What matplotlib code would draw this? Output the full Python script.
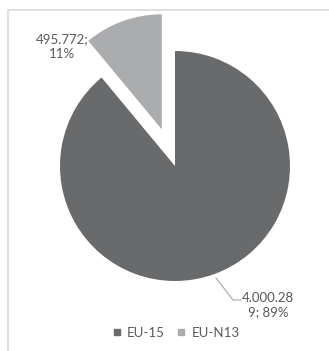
import matplotlib
matplotlib.use("Agg")
import matplotlib.pyplot as plt
from matplotlib.patches import Rectangle
from matplotlib.lines import Line2D

regions = ["EU-15", "EU-N13"]
values = [4000289, 495772]
value_labels = ["4.000.28\n9; 89%", "495.772;\n11%"]
colors = ["#696a6c", "#abacae"]

plt.rcParams['font.family'] = ['Lato', 'DejaVu Sans']

W, H = 329, 351
fig = plt.figure(figsize=(W / 100, H / 100), dpi=100)
ax = fig.add_axes([0, 0, 1, 1])
ax.set_xlim(0, W)
ax.set_ylim(0, H)
ax.set_aspect('equal')
ax.axis('off')

# chart frame (only left/top edges visible in the crop)
ax.add_patch(Rectangle((8, -20), 400, H - 10 + 20, fill=False,
                       edgecolor="#d9d9d9", linewidth=1.2, clip_on=False))

# explode is in data units (pixels here)
wedges, _ = ax.pie(values, colors=colors, startangle=90, counterclock=False,
                   explode=[0, 39], radius=115, center=(175, H - 166),
                   wedgeprops=dict(linewidth=0))
ax.set_xlim(0, W)
ax.set_ylim(0, H)

txt = "#595959"
ax.text(62, H - 47, value_labels[1], ha='center', va='center',
        fontsize=9.5, color=txt, linespacing=1.3)
ax.text(268, H - 305, value_labels[0], ha='center', va='center',
        fontsize=9.5, color=txt, linespacing=1.2)
ax.plot([216, 233, 241], [H - 278, H - 300, H - 300], color="#a6a6a6",
        linewidth=0.8)

handles = [Line2D([], [], marker='s', linestyle='none', markersize=4,
                  color=c) for c in colors]
ax.legend(handles, regions, loc='center', bbox_to_anchor=(176 / W, 1 - 333 / H),
          ncol=2, frameon=False, fontsize=9.5, handlelength=0.6,
          handletextpad=0.5, columnspacing=0.9, labelcolor=txt)

fig.savefig("out.png", dpi=100)
